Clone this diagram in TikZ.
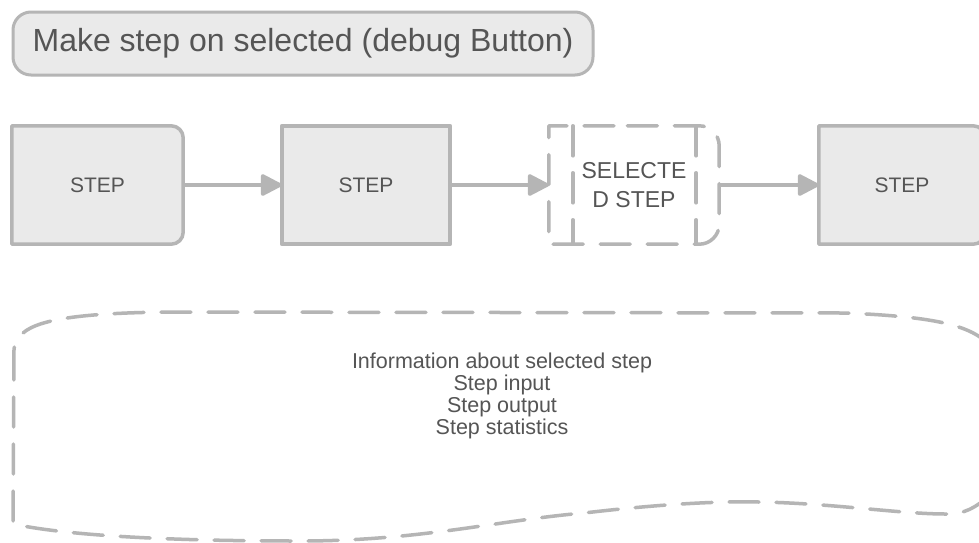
\documentclass[tikz,border=0pt]{standalone}
\usepackage{fontspec}
\setmainfont{Liberation Sans}
\usetikzlibrary{arrows.meta,backgrounds}
\definecolor{edgegray}{HTML}{B5B5B5}
\definecolor{boxfill}{HTML}{EAEAEA}
\definecolor{inkgray}{HTML}{555555}
\begin{document}
\begin{tikzpicture}[x=1pt,y=-1pt,
  outline/.style={draw=edgegray,line width=3.5pt,line join=round,line cap=round},
  dashline/.style={outline,dash pattern=on 30pt off 17pt},
  stepbox/.style={rectangle,inner sep=0pt,minimum height=118pt,text=inkgray,
                  font=\fontsize{21}{25}\selectfont},
  flow/.style={draw=edgegray,line width=3.5pt,
               -{Triangle[length=23pt,width=23pt,round]}},
  titlebox/.style={rectangle,rounded corners=18pt,draw=edgegray,line width=3pt,
                   fill=boxfill,minimum width=580pt,minimum height=63pt,inner sep=0pt,
                   text=inkgray,font=\fontsize{32}{38}\selectfont},
  infotext/.style={align=center,text=inkgray,font=\fontsize{21.5}{22}\selectfont}
]
\useasboundingbox (0,0) rectangle (979,542);

% header button
\node[titlebox] (title) at (303,43.5) {Make step on selected (debug Button)};

% pipeline of steps
\node[stepbox,minimum width=171pt] (b1) at (97.5,185) {STEP};
\node[stepbox,minimum width=168pt] (b2) at (366,185) {STEP};
\node[stepbox,minimum width=170pt,align=center,
      font=\fontsize{23}{29}\selectfont] (sel) at (634,185) {SELECTE\\D STEP};
\node[stepbox,minimum width=166pt] (b4) at (902,185) {STEP};

% details panel text
\node[infotext] (info) at (502,396)
  {Information about selected step\\Step input\\Step output\\Step statistics};

\begin{scope}[on background layer]
  \fill[white] (0,0) rectangle (979,542);
  % step boxes: square on the left, rounded on the right
  \path[outline,fill=boxfill] (b1.north) -- (b1.north west) -- (b1.south west) -- (b1.south)
     [rounded corners=12pt] -- (b1.south east) -- (b1.north east) -- cycle;
  \path[outline,fill=boxfill] (b2.north west) rectangle (b2.south east);
  \path[outline,fill=boxfill] (b4.north) -- (b4.north west) -- (b4.south west) -- (b4.south)
     [rounded corners=12pt] -- (b4.south east) -- (b4.north east) -- cycle;
  % selected step, dashed
  \path[dashline,fill=white] (sel.north) -- (sel.north west) -- (sel.south west) -- (sel.south)
     [rounded corners=20pt] -- (sel.south east) -- (sel.north east) -- cycle;
  \draw[dashline] ([xshift=24pt]sel.north west) -- ([xshift=24pt]sel.south west);
  \draw[dashline] ([xshift=-23pt]sel.north east) -- ([xshift=-23pt]sel.south east);
  % details panel outline
  \draw[dashline] (14,350) -- (13,524)
     .. controls (60,534) and (150,541) .. (300,541)
     .. controls (420,541) and (500,520) .. (584,513)
     .. controls (660,504) and (720,501) .. (759,502)
     .. controls (830,503) and (900,514) .. (946,514)
     .. controls (965,514) and (975,508) .. (990,495)
     -- (990,345)
     .. controls (970,326) and (940,317) .. (846,313)
     -- (167,312)
     .. controls (90,313) and (40,318) .. (23,333)
     .. controls (16,340) and (14,345) .. (14,350);
\end{scope}

% connectors
\draw[flow] (b1.east) -- (b2.west);
\draw[flow] (b2.east) -- (sel.west);
\draw[flow] (sel.east) -- (b4.west);
\end{tikzpicture}
\end{document}
